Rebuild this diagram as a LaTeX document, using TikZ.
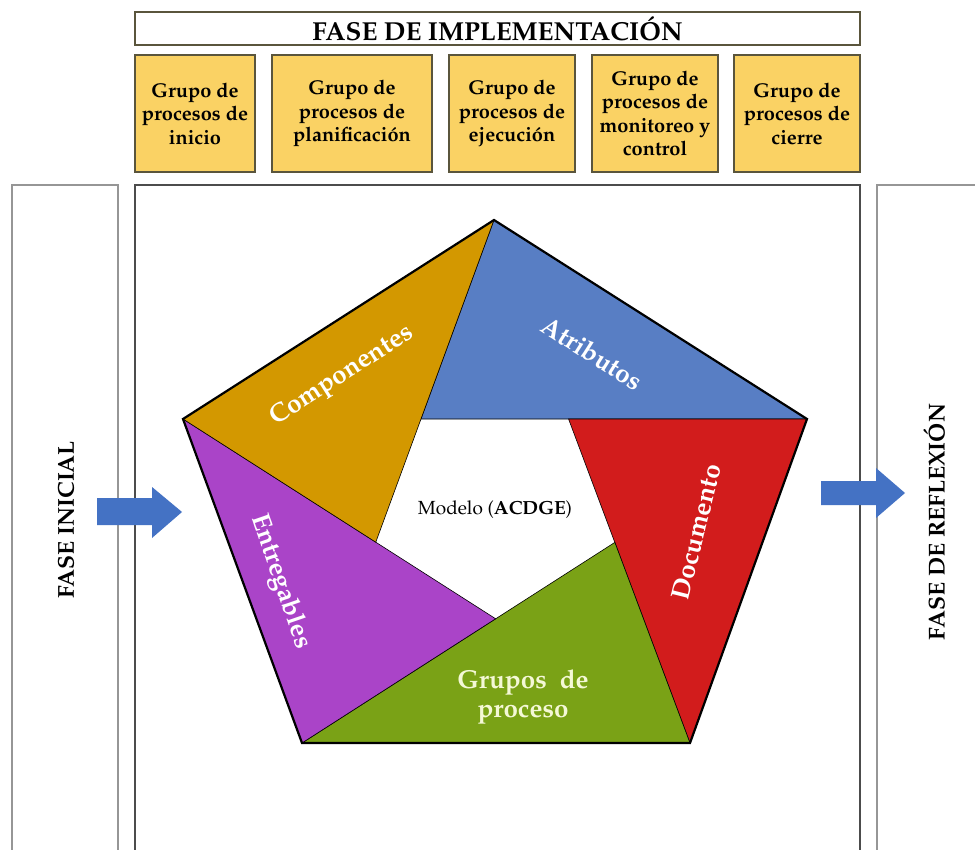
\documentclass[tikz,border=0pt]{standalone}
\usepackage[T1]{fontenc}
\usepackage{mathpazo}
\usetikzlibrary{calc}

\definecolor{boxyellow}{RGB}{250,210,100}
\definecolor{boxedge}{RGB}{90,85,60}
\definecolor{panelgray}{RGB}{150,150,150}
\definecolor{arrowblue}{RGB}{68,114,196}
\definecolor{cOrange}{RGB}{211,152,0}
\definecolor{cBlue}{RGB}{88,126,196}
\definecolor{cRed}{RGB}{210,28,28}
\definecolor{cGreen}{RGB}{122,162,22}
\definecolor{cPurple}{RGB}{170,68,200}
\definecolor{paleyellow}{RGB}{244,248,214}

\tikzset{
  panel/.style={draw=panelgray, line width=1.2pt},
  groupbox/.style={draw=boxedge, line width=1.2pt, fill=boxyellow,
    align=center, inner sep=0pt, minimum height=117pt,
    font=\fontsize{20}{23.5}\selectfont\bfseries},
  piece/.style={draw=black, line width=0.6pt},
  piecelabel/.style={text=white, font=\fontsize{26}{29}\selectfont\bfseries},
  sidelabel/.style={font=\fontsize{23}{26}\selectfont\bfseries, rotate=90},
  bigarrow/.style={fill=arrowblue, draw=none}
}

\begin{document}
\begin{tikzpicture}[x=1pt,y=-1pt]
\useasboundingbox (0,0) rectangle (975,850);
\clip (0,0) rectangle (975,850);
\fill[white] (0,0) rectangle (975,850);

% title bar
\node[draw=boxedge, line width=1.2pt, minimum width=725pt, minimum height=33pt,
  inner sep=0pt, font=\fontsize{26}{28}\selectfont\bfseries]
  (title) at (497.5,28.5) {FASE DE IMPLEMENTACI\'ON};

% process group boxes
\node[groupbox, minimum width=120pt] (g1) at (195,113.5)
  {Grupo de\\procesos de\\inicio};
\node[groupbox, minimum width=160pt] (g2) at (352,113.5)
  {Grupo de\\procesos de\\planificaci\'on};
\node[groupbox, minimum width=126pt] (g3) at (512,113.5)
  {Grupo de\\procesos de\\ejecuci\'on};
\node[groupbox, minimum width=126pt] (g4) at (655,113.5)
  {Grupo de\\procesos de\\monitoreo y\\control};
\node[groupbox, minimum width=126pt] (g5) at (797,113.5)
  {Grupo de\\procesos de\\cierre};

% three phase panels (running past the lower and right edges)
\draw[panel] (12,185) rectangle (118,870);
\draw[panel, draw=black!70] (135,185) rectangle (860,870);
\draw[panel] (877,185) rectangle (990,870);

\node[sidelabel] (inicial) at (66,520) {FASE INICIAL};
\node[sidelabel] (reflexion) at (934,522) {FASE DE REFLEXI\'ON};

% outer pentagon corners
\coordinate (P0) at (494,220);
\coordinate (P1) at (807,419);
\coordinate (P2) at (690,743);
\coordinate (P3) at (302,743);
\coordinate (P4) at (183,419);

% inner corners where the diagonals cross
\coordinate (Qb) at (intersection of P0--P3 and P4--P1);
\coordinate (Qr) at (intersection of P1--P4 and P2--P0);
\coordinate (Qg) at (intersection of P2--P0 and P3--P1);
\coordinate (Qp) at (intersection of P3--P1 and P4--P2);
\coordinate (Qo) at (intersection of P4--P2 and P0--P3);

% five coloured wedges
\filldraw[piece, fill=cBlue]   (P0) -- (P1) -- (Qb) -- cycle;
\filldraw[piece, fill=cRed]    (P1) -- (P2) -- (Qr) -- cycle;
\filldraw[piece, fill=cGreen]  (P2) -- (P3) -- (Qg) -- cycle;
\filldraw[piece, fill=cPurple] (P3) -- (P4) -- (Qp) -- cycle;
\filldraw[piece, fill=cOrange] (P4) -- (P0) -- (Qo) -- cycle;
\draw[line width=2.2pt, line join=miter] (P0) -- (P1) -- (P2) -- (P3) -- (P4) -- cycle;

% wedge labels
\node[piecelabel, rotate=32.5] (comp) at (342,376) {Componentes};
\node[piecelabel, rotate=-32.5] (atri) at (592,353) {Atributos};
\node[piecelabel, rotate=76] (docu) at (696,532) {Documento};
\node[piecelabel, rotate=-71] (entr) at (280,582) {Entregables};
\node[piecelabel, text=paleyellow, align=center] (grup) at (523,697)
  {Grupos\ \ de\\proceso};
\node[font=\fontsize{19}{22}\selectfont] (modelo) at (495,510) {Modelo (\textbf{ACDGE})};

% flow arrows
\fill[bigarrow] (97,498) -- (152,498) -- (152,487) -- (182,512) -- (152,538)
  -- (152,525) -- (97,525) -- cycle;
\fill[bigarrow] (821,481) -- (876,481) -- (876,468) -- (905,493) -- (876,518)
  -- (876,505) -- (821,505) -- cycle;
\end{tikzpicture}
\end{document}
